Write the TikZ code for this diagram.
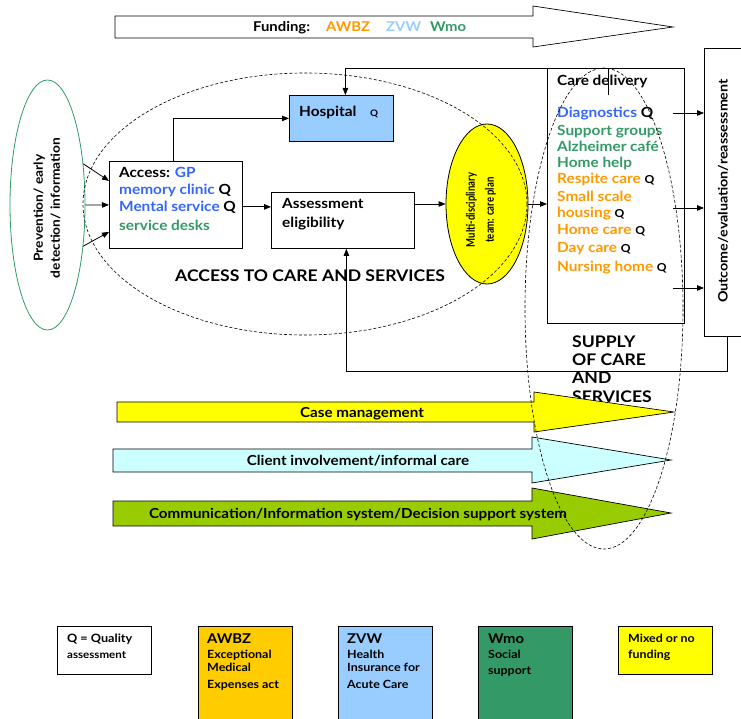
\documentclass[tikz,border=0pt]{standalone}
\usepackage{fontspec}
\setmainfont{Lato}[FakeStretch=1.1]
\usepackage{graphicx}
\usetikzlibrary{shapes.geometric,arrows.meta}
\definecolor{cOr}{HTML}{FF9900}
\definecolor{cBl}{HTML}{3366FF}
\definecolor{cGr}{HTML}{339966}
\definecolor{cZv}{HTML}{99CCFF}
\definecolor{cAw}{HTML}{FFCC00}
\definecolor{cYe}{HTML}{FFFF00}
\definecolor{cCl}{HTML}{CCFFFF}
\definecolor{cCo}{HTML}{99CC00}
\newcommand\myfs[2]{\fontsize{#1}{#2}\selectfont\bfseries}
\begin{document}
\begin{tikzpicture}[x=1pt,y=-1pt,
  >={Triangle[length=7pt,width=5.5pt]},
  bx/.style={draw, line width=0.8pt, inner sep=0pt, anchor=north west},
  lg/.style={draw, line width=0.8pt, inner sep=0pt, anchor=north west, minimum width=94, minimum height=48},
  lgt/.style={draw=none, line width=0.8pt, inner sep=0pt, anchor=north west, minimum width=94, minimum height=100},
  tx/.style={anchor=base west, inner sep=0pt, font=\myfs{14}{16}},
  sm/.style={anchor=base west, inner sep=0pt, font=\myfs{11.3}{13}},
  fw/.style={anchor=base west, inner sep=0pt, font=\myfs{13.5}{15}},
  bt/.style={anchor=base, inner sep=0pt, font=\myfs{13.8}{16}},
  big/.style={anchor=base west, inner sep=0pt, font=\myfs{16}{18}},
  band/.style={draw, line width=0.7pt},
  conn/.style={->, line width=0.8pt},
  dsh/.style={draw, dash pattern=on 3pt off 2pt, line width=0.6pt}]
\useasboundingbox (0,0) rectangle (741,719);
\clip (0,0) rectangle (741,719);

% funding arrow
\draw[band, fill=white] (115,16) -- (533,16) -- (533,6) -- (673,27) -- (533,47) -- (533,38) -- (115,38) -- cycle;
\node[fw] (fund) at (253,31.5) {Funding:};
\node[fw, text=cOr] (fund2) at (326,31.5) {AWBZ};
\node[fw, text=cZv] (fund3) at (386,31.5) {ZVW};
\node[fw, text=cGr] (fund4) at (430,31.5) {Wmo};

% boxes
\node[bx, minimum width=133, minimum height=87] (access) at (109,161) {};
\node[bx, fill=cZv, minimum width=104, minimum height=46] (hosp) at (289,95) {};
\node[bx, minimum width=143, minimum height=56] (assess) at (271,192) {};
\node[bx, minimum width=137, minimum height=255] (care) at (547,68) {};
\node[bx, minimum width=45, minimum height=288] (out) at (704,48) {};
\node[draw=cGr, ellipse, minimum width=75, minimum height=250, inner sep=0pt, line width=0.8pt] (prev) at (47.5,205) {};
\node[draw, fill=cYe, ellipse, minimum width=82, minimum height=160, inner sep=0pt, line width=0.8pt] (mdt) at (487,204) {};

% texts
\node[rotate=90, align=center, inner sep=0pt, font=\myfs{12.5}{17}] (prevt) at (47,208) {Prevention/ early\\detection/ information};
\node[tx] (a1) at (119,178) {Access: {\color{cBl}GP}};
\node[tx] (a2) at (119,195) {{\color{cBl}memory clinic} Q};
\node[tx] (a3) at (119,212) {{\color{cBl}Mental service} Q};
\node[tx] (a4) at (119,231) {{\color{cGr}service desks}};
\node[tx] (h1) at (299,117) {Hospital};
\node[anchor=base west, inner sep=0pt, font=\myfs{9}{11}] (h2) at (370,117) {Q};
\node[tx] (s1) at (282,209) {Assessment};
\node[tx] (s2) at (282,228) {eligibility};
\node[rotate=90, align=center, inner sep=0pt, font=\myfs{12}{19}] (mdtt) at (481,210)
  {\scalebox{0.72}[1]{Multi-disciplinary}\\\scalebox{0.72}[1]{team: care plan}};
\node[tx] (c0) at (557,86) {Care delivery};
\node[tx] (c1) at (557,118) {{\color{cBl}Diagnostics} Q};
\node[tx] (c2) at (557,136) {{\color{cGr}Support groups}};
\node[tx] (c3) at (557,152) {{\color{cGr}Alzheimer café}};
\node[tx] (c4) at (557,168) {{\color{cGr}Home help}};
\node[tx] (c5) at (557,184) {{\color{cOr}Respite care} {\myfs{11}{13}Q}};
\node[tx] (c6) at (557,202) {{\color{cOr}Small scale}};
\node[tx] (c7) at (557,218) {{\color{cOr}housing} {\myfs{11}{13}Q}};
\node[tx] (c8) at (557,235) {{\color{cOr}Home care} {\myfs{11}{13}Q}};
\node[tx] (c9) at (557,252) {{\color{cOr}Day care} {\myfs{11}{13}Q}};
\node[tx] (c10) at (557,272) {{\color{cOr}Nursing home} {\myfs{11}{13}Q}};
\node[rotate=90, inner sep=0pt, font=\myfs{13}{16}] (outt) at (723,191) {Outcome/evaluation/reassessment};
\node[big] (acc) at (175,281.5) {ACCESS TO CARE AND SERVICES};
\node[big] (sup1) at (572,347.5) {SUPPLY};
\node[big] (sup2) at (572,365.5) {OF CARE};
\node[big] (sup3) at (572,383.5) {AND};
\node[big] (sup4) at (572,402.5) {SERVICES};

% connectors
\draw[conn] (prev.49) -- ([yshift=24]access.west);
\draw[conn] (prev.east) -- (access.west);
\draw[conn] (prev.-49) -- ([yshift=-27]access.west);
\draw[conn] ([xshift=-3]access.north) |- (hosp.west);
\coordinate (cdtop) at (608,95);
\draw[conn] (cdtop) -- (cdtop |- care.north) -| ([xshift=4]hosp.north);
\draw[conn] ([yshift=-2]access.east) -- ([yshift=-2]access.east -| assess.west);
\draw[conn] (mdt.west -| assess.east) -- (mdt.west);
\draw[conn] (mdt.east) -- (mdt.east -| care.west);
\coordinate (o1) at (673,113);
\coordinate (o2) at (673,208);
\coordinate (o3) at (673,288);
\draw[conn] (o1) -- (o1 -| out.west);
\draw[conn] (o2) -- (o2 -| out.west);
\draw[conn] (o3) -- (o3 -| out.west);
\draw[conn] (out.south) -- ++(0,35) -| ([xshift=3.5]assess.south);

% band arrows
\draw[band, fill=cYe] (117,402) -- (534,402) -- (534,392) -- (674,412) -- (534,432) -- (534,422) -- (117,422) -- cycle;
\node[bt] (bt1) at (362,417) {Case management};
\draw[band, fill=cCl] (113,449) -- (532,449) -- (532,437) -- (671,460) -- (532,483) -- (532,472) -- (113,472) -- cycle;
\node[bt] (bt2) at (358,465) {Client involvement/informal care};
\draw[band, fill=cCo] (113,501) -- (532,501) -- (532,488) -- (671,513) -- (532,539) -- (532,526) -- (113,526) -- cycle;
\node[bt] (bt3) at (358,518) {Communication/Information system/Decision support system};

% dashed ellipses
\draw[dsh] (305,204) ellipse [x radius=222, y radius=131];
\draw[dsh] (604,308.5) ellipse [x radius=79, y radius=240.5];

% legend
\node[lg] (lq) at (57,626) {};
\node[anchor=base west, inner sep=0pt, font=\myfs{11.5}{13}] (lq1) at (67,642) {Q = Quality};
\node[anchor=base west, inner sep=0pt, font=\myfs{10.5}{12}] (lq2) at (67,658) {assessment};
\node[lgt, draw, fill=cAw] (la) at (198,626) {};
\node[anchor=base west, inner sep=0pt, font=\myfs{13.5}{15}] (la1) at (207,643) {AWBZ};
\node[sm] (la2) at (207,658) {Exceptional};
\node[sm] (la3) at (207,671) {Medical};
\node[sm] (la4) at (207,688) {Expenses act};
\node[lgt, draw, fill=cZv] (lz) at (338,626) {};
\node[anchor=base west, inner sep=0pt, font=\myfs{13.5}{15}] (lz1) at (347,643) {ZVW};
\node[sm] (lz2) at (347,658) {Health};
\node[sm] (lz3) at (347,671) {Insurance for};
\node[sm] (lz4) at (347,688) {Acute Care};
\node[lgt, draw, fill=cGr] (lw) at (478,626) {};
\node[anchor=base west, inner sep=0pt, font=\myfs{13.5}{15}] (lw1) at (488,643) {Wmo};
\node[sm] (lw2) at (488,658) {Social};
\node[sm] (lw3) at (488,674) {support};
\node[lg, fill=cYe] (lm) at (618,626) {};
\node[sm] (lm1) at (628,642) {Mixed or no};
\node[sm] (lm2) at (628,658) {funding};
\end{tikzpicture}
\end{document}
